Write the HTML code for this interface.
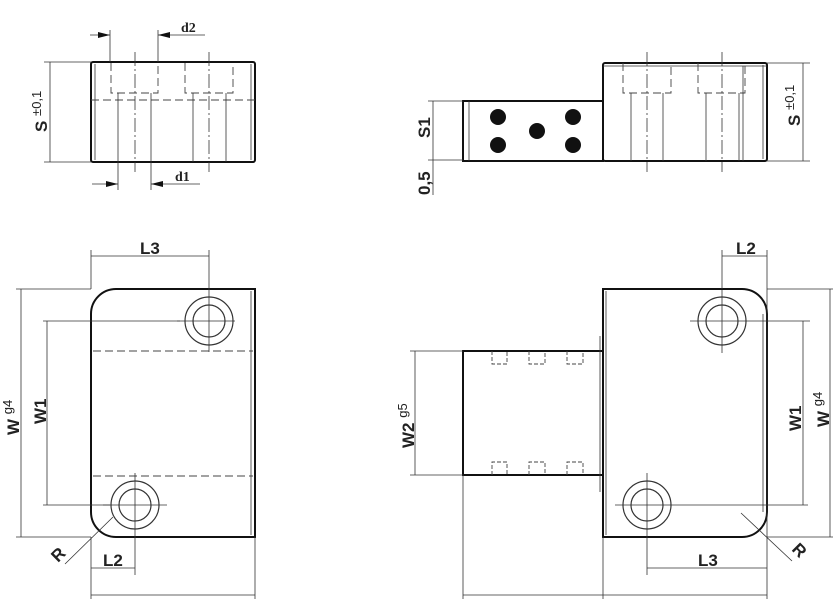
<!DOCTYPE html>
<html><head><meta charset="utf-8"><style>
html,body{margin:0;padding:0;background:#fff}
svg{display:block}
text{font-family:"Liberation Sans",sans-serif;font-size:17px;font-weight:bold;fill:#222}
.t{stroke:#333;stroke-width:0.8;fill:none}
.k{stroke:#111;stroke-width:2;fill:none}
.h{stroke:#444;stroke-width:0.9;fill:none;stroke-dasharray:8 4}
.c{stroke:#333;stroke-width:0.8;fill:none;stroke-dasharray:14 3 2 3}
.m{stroke:#333;stroke-width:1.2;fill:none}
</style></head><body>
<svg width="833" height="599" viewBox="0 0 833 599" xmlns="http://www.w3.org/2000/svg">
<defs>
<marker id="a" viewBox="0 0 10 10" refX="10" refY="5" markerWidth="12" markerHeight="12" markerUnits="userSpaceOnUse" orient="auto-start-reverse"><path d="M0,2.5L10,5L0,7.5z" fill="#111"/></marker>
</defs>

<rect x="91" y="62" width="164" height="100" class="k" rx="2"/>
<line x1="95" y1="64" x2="95" y2="160" class="t"/>
<line x1="251" y1="64" x2="251" y2="160" class="t"/>
<line x1="91" y1="100" x2="255" y2="100" class="h"/>
<path d="M111,63V93H158V63M185,63V93H233V63" class="h"/>
<path d="M118,93V162M151,93V162M193,93V162M226,93V162" class="t"/>
<line x1="135" y1="52" x2="135" y2="172" class="c"/>
<line x1="209" y1="52" x2="209" y2="172" class="c"/>
<path d="M110,30V62M158,30V62" class="t"/>
<line x1="90" y1="35" x2="110" y2="35" class="t" marker-end="url(#a)"/>
<line x1="205" y1="35" x2="158" y2="35" class="t" marker-end="url(#a)"/>
<text x="181" y="32" style="font-family:'Liberation Serif',serif;font-size:14px">d2</text>
<path d="M118,162V190M151,162V190" class="t"/>
<line x1="92" y1="184" x2="118" y2="184" class="t" marker-end="url(#a)"/>
<line x1="200" y1="184" x2="151" y2="184" class="t" marker-end="url(#a)"/>
<text x="175" y="181" style="font-family:'Liberation Serif',serif;font-size:14px">d1</text>
<path d="M44,62H91M44,162H91" class="t"/>
<line x1="50" y1="62" x2="50" y2="162" class="t"/>
<text transform="translate(47,132) rotate(-90)">S <tspan font-size="13" font-weight="normal" dy="-6">±0,1</tspan></text>

<rect x="463" y="101" width="140" height="60" class="k"/>
<line x1="469" y1="101" x2="469" y2="161" class="t"/>
<g fill="#111"><circle cx="498" cy="117" r="8"/><circle cx="573" cy="117" r="8"/><circle cx="537" cy="131" r="8"/><circle cx="498" cy="145" r="8"/><circle cx="573" cy="145" r="8"/></g>
<rect x="603" y="63" width="164" height="98" class="k" rx="2"/>
<line x1="603" y1="66" x2="767" y2="66" class="t"/>
<line x1="763" y1="65" x2="763" y2="159" class="t"/>
<path d="M623,63V93H671V63M698,63V93H745V63" class="h"/>
<path d="M631,93V161M663,93V161M706,93V161M739,93V161M743,66V161" class="t"/>
<line x1="647" y1="52" x2="647" y2="172" class="c"/>
<line x1="722" y1="52" x2="722" y2="172" class="c"/>
<path d="M767,63H810M767,161H810" class="t"/>
<line x1="803" y1="63" x2="803" y2="161" class="t"/>
<text transform="translate(800,126) rotate(-90)">S <tspan font-size="13" font-weight="normal" dy="-6">±0,1</tspan></text>
<path d="M428,101H463M428,160H463" class="t"/>
<line x1="433" y1="101" x2="433" y2="195" class="t"/>
<text transform="translate(430,138) rotate(-90)">S1</text>
<text transform="translate(430,195) rotate(-90)">0,5</text>

<path d="M116,289H255V537H116A25,25 0 0 1 91,512V314A25,25 0 0 1 116,289Z" class="k"/>
<line x1="251" y1="291" x2="251" y2="535" class="t"/>
<line x1="93" y1="351" x2="253" y2="351" class="h"/>
<line x1="93" y1="476" x2="253" y2="476" class="h"/>
<circle cx="209" cy="321" r="24" class="m"/><circle cx="209" cy="321" r="16" class="m"/>
<circle cx="135" cy="505" r="24" class="m"/><circle cx="135" cy="505" r="16" class="m"/>
<path d="M177,321H235M209,290V352M103,505H167M135,473V575" class="t"/>
<path d="M91,250V289M209,250V290" class="t"/>
<line x1="91" y1="256" x2="209" y2="256" class="t"/>
<text x="140" y="254">L3</text>
<path d="M16,289H91M16,537H91" class="t"/>
<line x1="21" y1="289" x2="21" y2="537" class="t"/>
<text transform="translate(19,435) rotate(-90)">W <tspan font-size="13" font-weight="normal" dy="-7">g4</tspan></text>
<path d="M43,321H180M43,505H110" class="t"/>
<line x1="47" y1="321" x2="47" y2="505" class="t"/>
<text transform="translate(46,424) rotate(-90)">W1</text>
<path d="M91,537V599" class="t"/>
<line x1="91" y1="568" x2="135" y2="568" class="t"/>
<text x="103" y="566">L2</text>
<line x1="91" y1="595" x2="255" y2="595" class="t"/>
<path d="M255,537V599" class="t"/>
<line x1="113" y1="517" x2="65" y2="564" class="t"/>
<text transform="translate(58,563) rotate(-45)">R</text>

<path d="M603,289H742A25,25 0 0 1 767,314V512A25,25 0 0 1 742,537H603Z" class="k"/>
<line x1="606" y1="291" x2="606" y2="535" class="t"/>
<line x1="763" y1="314" x2="763" y2="512" class="t"/>
<rect x="463" y="351" width="140" height="124" class="k"/>
<line x1="600" y1="336" x2="600" y2="492" class="t"/>
<path d="M492,351V364H507V351M529,351V364H545V351M567,351V364H583V351" class="h" style="stroke-dasharray:4 2"/>
<path d="M492,475V462H507V475M529,475V462H545V475M567,475V462H583V475" class="h" style="stroke-dasharray:4 2"/>
<circle cx="722" cy="321" r="24" class="m"/><circle cx="722" cy="321" r="16" class="m"/>
<circle cx="647" cy="505" r="24" class="m"/><circle cx="647" cy="505" r="16" class="m"/>
<path d="M690,321H810M722,290V353M615,505H808M647,473V575" class="t"/>
<path d="M722,250V289M767,250V599M603,537V599M463,475V599" class="t"/>
<line x1="722" y1="256" x2="767" y2="256" class="t"/>
<text x="736" y="254">L2</text>
<path d="M767,289H833M767,537H833" class="t"/>
<line x1="803" y1="321" x2="803" y2="505" class="t"/>
<text transform="translate(801,431) rotate(-90)">W1</text>
<line x1="830" y1="289" x2="830" y2="537" class="t"/>
<text transform="translate(829,427) rotate(-90)">W <tspan font-size="13" font-weight="normal" dy="-7">g4</tspan></text>
<path d="M410,351H463" class="t"/>
<line x1="415" y1="351" x2="415" y2="475" class="t"/>
<path d="M410,475H463" class="t"/>
<text transform="translate(414,448) rotate(-90)">W2 <tspan font-size="13" font-weight="normal" dy="-7">g5</tspan></text>
<line x1="647" y1="568" x2="767" y2="568" class="t"/>
<text x="698" y="566">L3</text>
<line x1="463" y1="595" x2="767" y2="595" class="t"/>
<line x1="741" y1="513" x2="792" y2="561" class="t"/>
<text transform="translate(791,550) rotate(45)">R</text>
</svg>
</body></html>
